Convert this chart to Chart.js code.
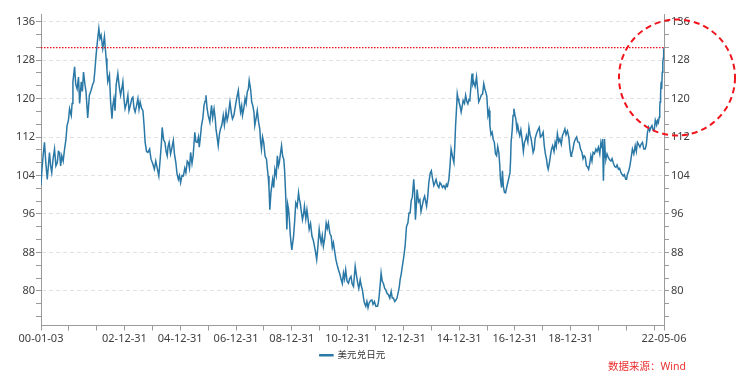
<!DOCTYPE html>
<html>
<head>
<meta charset="utf-8">
<script src="https://cdn.jsdelivr.net/npm/chart.js@4.4.1/dist/chart.umd.min.js"></script>
<style>
    html, body { margin: 0; padding: 0; background: #fff; }
    #wrap { width: 745px; height: 377px; position: relative; }
</style>
</head>
<body>
<div id="wrap"><canvas id="fxChart" width="745" height="377"></canvas></div>
<script>
// x positions as fractional years (2000.5 = mid 2000)
const yearFrac = [
    2000.005, 2000.04, 2000.08, 2000.13, 2000.18, 2000.23, 2000.27, 2000.31, 2000.35, 2000.39, 2000.44, 2000.49, 2000.54, 2000.59, 2000.63, 2000.67, 2000.71, 2000.75, 2000.80, 2000.85, 2000.90, 2000.94, 2000.99,
    2001.03, 2001.09, 2001.12, 2001.15, 2001.21, 2001.25, 2001.30, 2001.35, 2001.39, 2001.45, 2001.49, 2001.53, 2001.58, 2001.62, 2001.68, 2001.74, 2001.80, 2001.86, 2001.90, 2001.94, 2001.98,
    2002.03, 2002.08, 2002.12, 2002.16, 2002.22, 2002.28, 2002.34, 2002.37, 2002.40, 2002.46, 2002.50, 2002.55, 2002.58, 2002.62, 2002.66, 2002.70, 2002.76, 2002.81, 2002.86, 2002.90, 2002.94, 2002.98,
    2003.02, 2003.07, 2003.12, 2003.16, 2003.21, 2003.26, 2003.30, 2003.34, 2003.38, 2003.43, 2003.48, 2003.52, 2003.56, 2003.61, 2003.66, 2003.70, 2003.74, 2003.79, 2003.84, 2003.90, 2003.95,
    2004.01, 2004.07, 2004.12, 2004.17, 2004.23, 2004.28, 2004.32, 2004.35, 2004.40, 2004.45, 2004.49, 2004.53, 2004.56, 2004.60, 2004.65, 2004.69, 2004.75, 2004.79, 2004.84, 2004.88, 2004.93, 2004.97,
    2005.01, 2005.06, 2005.11, 2005.16, 2005.20, 2005.25, 2005.29, 2005.33, 2005.37, 2005.42, 2005.46, 2005.52, 2005.56, 2005.61, 2005.65, 2005.68, 2005.72, 2005.76, 2005.81, 2005.85, 2005.89, 2005.92, 2005.96,
    2006.00, 2006.06, 2006.09, 2006.12, 2006.16, 2006.21, 2006.25, 2006.28, 2006.32, 2006.36, 2006.40, 2006.44, 2006.49, 2006.54, 2006.58, 2006.64, 2006.68, 2006.72, 2006.78, 2006.83, 2006.87, 2006.92, 2006.96,
    2007.02, 2007.08, 2007.12, 2007.16, 2007.20, 2007.23, 2007.28, 2007.32, 2007.36, 2007.40, 2007.44, 2007.47, 2007.52, 2007.56, 2007.60, 2007.64, 2007.67, 2007.72, 2007.76, 2007.81, 2007.85, 2007.88, 2007.91, 2007.95, 2007.99,
    2008.04, 2008.09, 2008.12, 2008.15, 2008.18, 2008.21, 2008.25, 2008.31, 2008.35, 2008.39, 2008.44, 2008.48, 2008.52, 2008.55, 2008.59, 2008.63, 2008.67, 2008.71, 2008.74, 2008.77, 2008.80, 2008.82, 2008.85, 2008.88, 2008.91, 2008.94, 2008.97,
    2009.00, 2009.03, 2009.06, 2009.10, 2009.14, 2009.19, 2009.24, 2009.27, 2009.30, 2009.34, 2009.38, 2009.42, 2009.45, 2009.50, 2009.54, 2009.58, 2009.62, 2009.67, 2009.72, 2009.77, 2009.81, 2009.85, 2009.89, 2009.93, 2009.98,
    2010.02, 2010.05, 2010.09, 2010.13, 2010.18, 2010.23, 2010.27, 2010.31, 2010.36, 2010.41, 2010.45, 2010.49, 2010.54, 2010.58, 2010.62, 2010.67, 2010.72, 2010.77, 2010.81, 2010.85, 2010.89, 2010.93, 2010.98,
    2011.03, 2011.07, 2011.12, 2011.16, 2011.21, 2011.24, 2011.27, 2011.31, 2011.36, 2011.40, 2011.45, 2011.49, 2011.53, 2011.57, 2011.60, 2011.65, 2011.69, 2011.73, 2011.77, 2011.82, 2011.87, 2011.91, 2011.96,
    2012.01, 2012.07, 2012.10, 2012.13, 2012.17, 2012.20, 2012.24, 2012.28, 2012.33, 2012.37, 2012.41, 2012.46, 2012.51, 2012.56, 2012.60, 2012.64, 2012.69, 2012.73, 2012.77, 2012.82, 2012.85, 2012.88, 2012.92, 2012.96,
    2013.01, 2013.06, 2013.11, 2013.16, 2013.20, 2013.24, 2013.28, 2013.32, 2013.37, 2013.40, 2013.43, 2013.46, 2013.49, 2013.54, 2013.59, 2013.63, 2013.67, 2013.72, 2013.76, 2013.80, 2013.83, 2013.87, 2013.91, 2013.96,
    2014.00, 2014.04, 2014.09, 2014.13, 2014.17, 2014.22, 2014.27, 2014.31, 2014.35, 2014.40, 2014.45, 2014.50, 2014.54, 2014.58, 2014.63, 2014.67, 2014.71, 2014.76, 2014.81, 2014.84, 2014.87, 2014.90, 2014.93, 2014.96, 2014.99,
    2015.03, 2015.07, 2015.11, 2015.14, 2015.19, 2015.23, 2015.27, 2015.31, 2015.35, 2015.38, 2015.42, 2015.46, 2015.49, 2015.52, 2015.57, 2015.62, 2015.66, 2015.70, 2015.75, 2015.79, 2015.84, 2015.88, 2015.92, 2015.95, 2015.99,
    2016.03, 2016.07, 2016.10, 2016.14, 2016.18, 2016.22, 2016.26, 2016.30, 2016.34, 2016.38, 2016.42, 2016.45, 2016.48, 2016.52, 2016.55, 2016.58, 2016.62, 2016.66, 2016.70, 2016.74, 2016.78, 2016.82, 2016.84, 2016.86, 2016.90, 2016.93, 2016.96,
    2017.00, 2017.03, 2017.07, 2017.10, 2017.14, 2017.17, 2017.21, 2017.26, 2017.30, 2017.34, 2017.38, 2017.41, 2017.46, 2017.50, 2017.54, 2017.58, 2017.62, 2017.65, 2017.69, 2017.72, 2017.76, 2017.81, 2017.87, 2017.91, 2017.96,
    2018.01, 2018.05, 2018.09, 2018.13, 2018.16, 2018.19, 2018.23, 2018.27, 2018.31, 2018.35, 2018.40, 2018.44, 2018.48, 2018.52, 2018.57, 2018.61, 2018.66, 2018.70, 2018.75, 2018.79, 2018.83, 2018.88, 2018.93, 2018.97,
    2019.01, 2019.03, 2019.08, 2019.12, 2019.16, 2019.21, 2019.25, 2019.30, 2019.35, 2019.40, 2019.44, 2019.48, 2019.52, 2019.56, 2019.60, 2019.64, 2019.68, 2019.72, 2019.76, 2019.80, 2019.85, 2019.90, 2019.94, 2019.99,
    2020.04, 2020.08, 2020.12, 2020.14, 2020.17, 2020.21, 2020.24, 2020.26, 2020.30, 2020.35, 2020.40, 2020.44, 2020.48, 2020.52, 2020.57, 2020.62, 2020.66, 2020.71, 2020.75, 2020.80, 2020.84, 2020.88, 2020.92, 2020.97,
    2021.00, 2021.03, 2021.08, 2021.12, 2021.16, 2021.21, 2021.26, 2021.31, 2021.35, 2021.39, 2021.43, 2021.48, 2021.52, 2021.57, 2021.62, 2021.67, 2021.71, 2021.75, 2021.79, 2021.83, 2021.87, 2021.91, 2021.95, 2021.99,
    2022.03, 2022.05, 2022.08, 2022.11, 2022.14, 2022.17, 2022.19, 2022.20, 2022.22, 2022.24, 2022.26, 2022.28, 2022.30, 2022.32, 2022.33, 2022.345
];

const usdJpy = [
    102.0, 105.3, 108.0, 110.9, 106.5, 103.2, 106.0, 108.8, 106.0, 104.6, 107.5, 109.5, 106.0, 106.7, 109.0, 108.8, 106.0, 108.1, 107.0, 109.5, 111.5, 114.4, 115.5,
    117.9, 116.5, 119.0, 123.5, 126.6, 123.0, 122.0, 124.5, 119.0, 123.5, 121.5, 125.5, 123.0, 121.4, 116.0, 120.7, 121.7, 123.0, 123.5, 126.0, 129.0,
    132.0, 134.6, 132.5, 133.2, 130.4, 132.9, 128.4, 126.0, 123.5, 124.9, 119.5, 115.8, 118.5, 120.0, 117.5, 122.8, 125.2, 122.5, 120.7, 122.0, 123.5, 120.0,
    117.9, 119.0, 120.7, 117.5, 118.6, 120.0, 120.3, 118.0, 117.2, 118.5, 120.0, 117.8, 119.3, 118.0, 117.5, 114.5, 110.9, 109.0, 108.8, 109.5, 107.4,
    106.5, 105.3, 107.0, 105.6, 103.9, 107.5, 110.5, 114.0, 111.5, 110.9, 109.0, 108.1, 110.0, 110.9, 108.5, 109.5, 111.3, 108.5, 106.7, 104.5, 103.2, 104.0,
    102.5, 104.0, 103.9, 105.5, 104.6, 107.0, 106.7, 105.5, 108.8, 106.5, 108.1, 113.0, 111.0, 110.9, 112.0, 109.9, 112.0, 114.4, 116.0, 118.6, 119.5, 120.7, 118.0,
    116.5, 115.1, 117.0, 118.6, 116.0, 117.9, 116.0, 113.7, 112.0, 110.2, 112.5, 113.7, 114.5, 116.5, 114.5, 117.2, 115.5, 116.5, 119.3, 117.0, 115.8, 116.5, 117.9,
    120.0, 121.7, 119.0, 117.2, 118.5, 116.5, 118.0, 120.0, 119.0, 121.4, 122.0, 123.8, 122.0, 119.3, 118.5, 117.2, 114.4, 116.0, 117.5, 115.0, 113.7, 111.0, 109.5, 112.0, 110.9,
    108.0, 107.4, 105.5, 103.9, 101.5, 96.9, 100.5, 103.2, 101.5, 105.3, 104.0, 108.1, 106.0, 106.7, 108.5, 110.2, 108.0, 107.4, 105.0, 101.1, 96.5, 92.8, 98.0, 97.0, 95.0, 92.0, 90.0,
    88.5, 90.0, 91.3, 94.5, 98.3, 97.5, 100.4, 99.0, 98.3, 96.5, 94.8, 96.0, 97.6, 95.0, 96.9, 95.0, 92.8, 94.0, 91.4, 90.5, 89.3, 88.0, 86.5, 89.0, 92.8,
    91.0, 90.0, 91.5, 89.3, 91.0, 94.1, 93.0, 94.1, 92.0, 91.4, 89.0, 90.0, 88.0, 86.5, 85.5, 84.4, 83.5, 82.3, 81.5, 83.7, 82.5, 84.4, 82.0,
    81.6, 82.5, 83.0, 81.5, 80.9, 83.0, 85.1, 83.5, 81.6, 80.5, 82.3, 81.0, 80.2, 78.5, 77.5, 76.8, 77.8, 76.5, 77.5, 78.0, 78.1, 77.2, 77.8,
    76.8, 76.8, 77.5, 78.9, 81.5, 83.7, 82.0, 81.6, 80.5, 80.2, 79.5, 79.2, 78.5, 79.9, 78.5, 78.5, 77.8, 78.1, 78.5, 79.9, 80.8, 82.3, 83.5, 85.1,
    87.0, 89.3, 93.4, 94.1, 96.2, 96.2, 98.8, 99.5, 103.2, 100.5, 94.8, 97.5, 101.1, 98.5, 99.0, 96.5, 97.6, 99.0, 99.7, 98.5, 97.6, 99.5, 102.5, 104.5,
    105.0, 103.5, 101.9, 102.5, 103.2, 102.0, 101.5, 102.5, 102.2, 101.5, 101.9, 101.3, 102.2, 101.8, 103.2, 106.0, 109.5, 108.0, 106.7, 110.0, 114.4, 117.5, 121.0, 120.0, 119.3,
    118.5, 117.2, 118.5, 119.6, 119.0, 120.7, 119.5, 118.9, 119.8, 119.6, 122.5, 125.2, 123.0, 123.5, 122.5, 124.5, 122.0, 119.3, 120.0, 120.7, 121.0, 123.1, 122.0, 121.4, 120.5,
    116.5, 117.5, 114.4, 112.5, 113.0, 111.5, 110.9, 108.5, 108.1, 110.0, 108.8, 106.5, 103.2, 101.5, 105.0, 101.9, 100.5, 100.4, 101.5, 102.5, 103.5, 104.6, 107.0, 110.9, 113.5, 116.5, 117.9,
    116.5, 115.8, 113.5, 114.4, 113.0, 112.3, 113.5, 111.3, 109.0, 110.9, 111.5, 112.3, 111.0, 114.0, 112.5, 111.6, 110.0, 108.8, 109.5, 111.6, 112.5, 113.3, 114.0, 112.0, 112.3,
    113.0, 110.2, 108.5, 107.4, 106.0, 105.3, 106.5, 108.1, 109.5, 110.2, 109.0, 110.9, 110.0, 112.7, 111.0, 111.6, 110.5, 112.3, 113.0, 113.7, 112.5, 113.3, 112.0, 109.5,
    108.0, 108.4, 109.5, 110.9, 111.5, 112.0, 111.0, 110.9, 109.5, 108.8, 107.5, 108.1, 107.8, 106.0, 105.8, 105.3, 106.5, 108.1, 107.0, 108.8, 108.5, 109.5, 109.0, 109.9,
    108.5, 110.9, 109.8, 111.6, 102.9, 111.6, 108.0, 107.4, 108.5, 107.7, 107.2, 107.0, 107.5, 106.7, 105.9, 105.7, 106.2, 105.3, 105.5, 104.6, 104.2, 103.9, 104.2, 103.2,
    103.2, 104.2, 105.0, 106.0, 107.5, 109.5, 108.5, 110.2, 109.0, 110.9, 110.5, 109.9, 110.5, 110.9, 109.5, 109.5, 110.5, 113.0, 114.0, 113.3, 114.0, 114.4, 113.5, 113.3,
    115.5, 115.1, 114.5, 115.4, 115.0, 116.1, 118.0, 119.3, 121.0, 123.5, 122.0, 125.5, 127.6, 128.5, 130.0, 130.6
];

// axis ticks
const xTickDates = ['00-01-03', '00-12-31', '01-12-31', '02-12-31', '03-12-31', '04-12-31', '05-12-31', '06-12-31', '07-12-31', '08-12-31', '09-12-31',
    '10-12-31', '11-12-31', '12-12-31', '13-12-31', '14-12-31', '15-12-31', '16-12-31', '17-12-31', '18-12-31', '19-12-31', '20-12-31', '21-12-31', '22-05-06'];
const xTickLabels = ['00-01-03', '', '', '02-12-31', '', '04-12-31', '', '06-12-31', '', '08-12-31', '',
    '10-12-31', '', '12-12-31', '', '14-12-31', '', '16-12-31', '', '18-12-31', '', '', '', '22-05-06'];
const yTickLabels = [80, 88, 96, 104, 112, 120, 128, 136];

const seriesName = '美元兑日元';
const sourceNote = '数据来源：Wind';

const Y_MIN = 72.8;
const Y_MAX = 137.6;
const FONT = '"Noto Sans", "Noto Sans CJK SC", sans-serif';

document.addEventListener('DOMContentLoaded', function () {
    drawFxChart('fxChart');
});

function toYear(str) {
    const parts = str.split('-').map(Number);
    const y = 2000 + parts[0];
    const start = Date.UTC(y, 0, 1);
    const end = Date.UTC(y + 1, 0, 1);
    return y + (Date.UTC(y, parts[1] - 1, parts[2]) - start) / (end - start);
}

function buildYTicks() {
    // major ticks every 8, two minor ticks in between
    const ticks = [];
    const step = 8 / 3;
    ticks.push({ value: 80 - 2 * step }, { value: 80 - step });
    yTickLabels.forEach((v, i) => {
        ticks.push({ value: v });
        if (i < yTickLabels.length - 1) {
            ticks.push({ value: v + step }, { value: v + 2 * step });
        }
    });
    return ticks;
}

// red reference line at latest value + dashed circle around the recent jump
const markerPlugin = {
    id: 'markers',
    afterDatasetsDraw(chart) {
        const ctx = chart.ctx;
        const xs = chart.scales.x;
        const ys = chart.scales.y;
        const last = usdJpy[usdJpy.length - 1];
        const yLine = ys.getPixelForValue(last);

        ctx.save();
        ctx.strokeStyle = '#e8111b';
        ctx.lineWidth = 1.3;
        ctx.setLineDash([1.5, 1.5]);
        ctx.beginPath();
        ctx.moveTo(xs.left, yLine);
        ctx.lineTo(xs.right, yLine);
        ctx.stroke();

        const cx = xs.right + 13;
        const cy = ys.getPixelForValue(124.4);
        ctx.strokeStyle = '#f0141c';
        ctx.lineWidth = 2;
        ctx.setLineDash([6, 4]);
        ctx.beginPath();
        ctx.arc(cx, cy, 58, 0, Math.PI * 2);
        ctx.stroke();
        ctx.restore();
    },
    afterDraw(chart) {
        const ctx = chart.ctx;
        ctx.save();
        ctx.fillStyle = '#e8312f';
        ctx.font = '10.5px ' + FONT;
        ctx.textAlign = 'right';
        ctx.textBaseline = 'middle';
        ctx.fillText(sourceNote, 686, 367);
        ctx.restore();
    }
};

function yAxis(position) {
    const left = position === 'left';
    return {
        type: 'linear',
        position: position,
        min: Y_MIN,
        max: Y_MAX,
        afterBuildTicks: scale => { scale.ticks = buildYTicks(); },
        afterFit: scale => { scale.width = left ? 41 : 81; },
        ticks: {
            autoSkip: false,
            padding: left ? 1 : 2,
            color: '#404040',
            font: { size: 11, family: FONT },
            callback: value => (yTickLabels.includes(value) ? value : '')
        },
        grid: {
            drawOnChartArea: left,
            tickLength: 5,
            tickColor: '#9a9a9a',
            color: c => (c.tick && yTickLabels.includes(c.tick.value) ? '#e2e2e2' : 'rgba(0,0,0,0)')
        },
        border: { color: '#9a9a9a', dash: [4, 3] }
    };
}

function drawFxChart(canvasId) {
    const canvas = document.getElementById(canvasId);
    if (!canvas) {
        console.error(`Canvas with ID '${canvasId}' not found.`);
        return;
    }
    const ctx = canvas.getContext('2d');
    const points = yearFrac.map((t, i) => ({ x: t, y: usdJpy[i] }));

    canvas.chartInstance = new Chart(ctx, {
        type: 'line',
        data: {
            datasets: [
                {
                    label: seriesName,
                    data: points,
                    borderColor: '#2a78a6',
                    backgroundColor: '#2a78a6',
                    borderWidth: 1.5,
                    pointRadius: 0,
                    tension: 0,
                    yAxisID: 'y'
                }
            ]
        },
        options: {
            responsive: false,
            animation: false,
            layout: { padding: { top: 14, left: 0, right: 0, bottom: 7 } },
            plugins: {
                legend: {
                    position: 'bottom',
                    fullSize: false,
                    labels: {
                        boxWidth: 13,
                        boxHeight: 1,
                        padding: 3,
                        color: '#333',
                        font: { size: 9.5, family: FONT }
                    }
                },
                tooltip: { enabled: false }
            },
            scales: {
                x: {
                    type: 'linear',
                    min: toYear(xTickDates[0]),
                    max: toYear(xTickDates[xTickDates.length - 1]),
                    afterBuildTicks: scale => {
                        scale.ticks = xTickDates.map(d => ({ value: toYear(d) }));
                    },
                    afterFit: scale => { scale.height = 22; },
                    ticks: {
                        autoSkip: false,
                        maxRotation: 0,
                        padding: 2,
                        color: '#404040',
                        font: { size: 11, family: FONT },
                        callback: (value, index) => xTickLabels[index]
                    },
                    grid: {
                        drawOnChartArea: false,
                        tickLength: 5,
                        tickColor: '#9a9a9a'
                    },
                    border: { color: '#9a9a9a' }
                },
                y: yAxis('left'),
                y2: yAxis('right')
            }
        },
        plugins: [markerPlugin]
    });
}
</script>
</body>
</html>
